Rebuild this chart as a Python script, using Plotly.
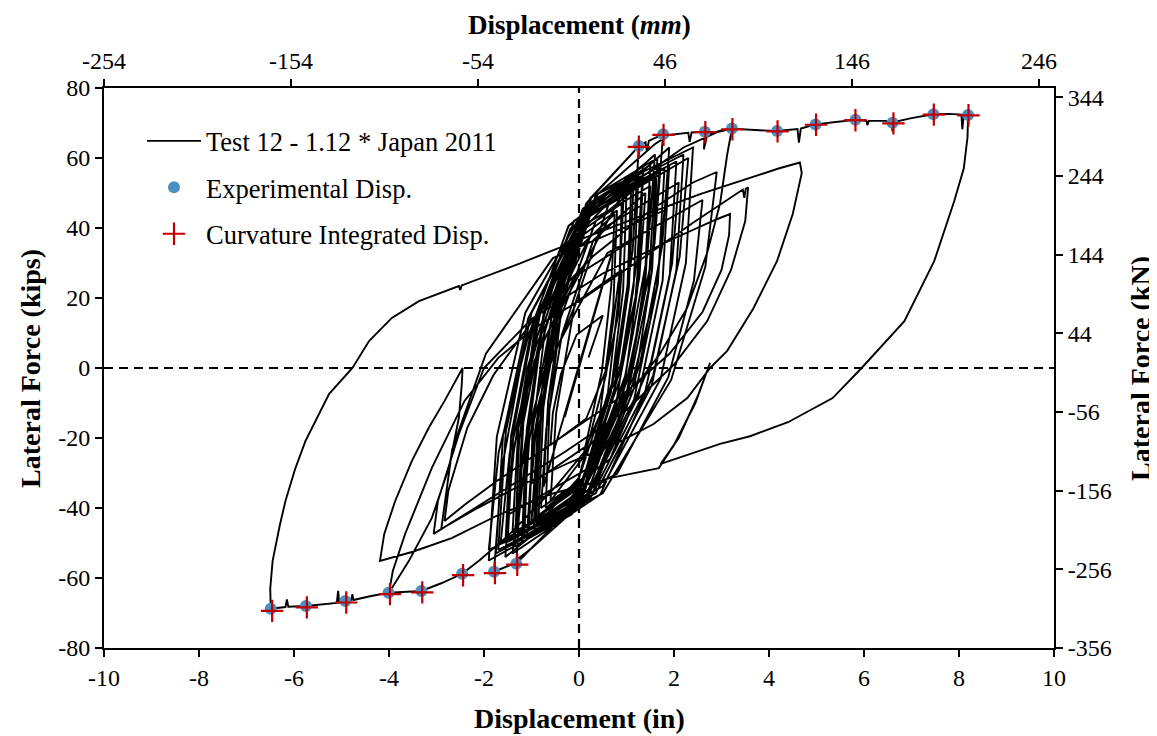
import plotly.graph_objects as go

# 位移 (in), 力 (kips) —— 滞回曲线各段
elastic_start = [(0, 0), (0.35, 17), (-0.3, -14), (0.55, 26), (-0.5, -23), (0.8, 38), (-0.75, -34)]

early_cycles = [
    (-0.65, -9.6), (-0.35, 19.6), (0.26, 48.8), (1.26, 63.4),
    (1.13, 33.6), (0.74, -2.2), (-0.03, -38.0), (-1.32, -55.9),
    (-1.21, -28.9), (-0.87, 3.4), (-0.18, 35.8), (0.95, 52),
    (0.86, 27.5), (0.57, -1.9), (0.0, -31.3), (-0.95, -46),
    (-0.84, -18.6), (-0.51, 14.2), (0.15, 47), (1.2, 62.5), (1.4, 64.5), (1.43, 61.8), (1.47, 64.9), (1.77, 66.8),
    (1.59, 35.6), (1.06, -2.0), (-0.01, -39.5), (-1.0, -51.5), (-1.45, -56.3), (-1.79, -58.2),
    (-1.63, -29.2), (-1.16, 5.7), (-0.22, 40.6), (1.35, 58),
    (1.23, 31.3), (0.86, -0.9), (0.13, -33.0), (-1.1, -49),
    (-0.97, -21.5), (-0.56, 11.5), (0.25, 44.5), (1.6, 61),
    (1.44, 32.3), (0.97, -2.3), (0.03, -36.8), (-1.55, -54),
    (-1.44, -29.5), (-1.09, -0.1), (-0.4, 29.3), (0.75, 44),
    (0.68, 23.5), (0.48, -1.1), (0.08, -25.7), (-0.6, -38),
    (-0.48, -12.8), (-0.1, 17.6), (0.65, 47.9), (1.9, 63),
    (1.75, 34.8), (1.28, 0.9), (0.35, -33.1), (-1.2, -50),
    (-1.05, -20.9), (-0.58, 14.1), (0.35, 49.1), (1.6, 64.0), (1.9, 66.6), (2.3, 67.2), (2.33, 64.6),
    (2.37, 67.3), (2.65, 67.5), (2.63, 62.5), (2.7, 66.8), (3.0, 67.9), (3.22, 68.4),
]

first_negative_push = [
    (3.12, 61), (2.97, 47), (2.7, 33), (2.27, 17), (1.7, 4), (0.6, -16), (-0.5, -34), (-1.5, -48),
    (-2.1, -55), (-2.46, -58.8), (-2.9, -61.5), (-3.32, -63.7), (-3.7, -64.0), (-4.0, -64.2),
]

mid_loops = [
    (-3.92, -58), (-3.66, -47.4), (-3.1, -28.6), (-2.41, -9.4), (-1.7, 2.9), (-0.94, 11.4), (0.1, 20),
    (1.3, 31), (2.4, 41.5), (3.1, 48), (3.45, 51), (3.48, 48.6), (3.51, 51.2), (3.56, 51.6),
    (3.5, 42), (3.2, 28), (2.7, 13.4), (2.0, 1), (1.0, -12), (-0.3, -24), (-1.6, -35), (-2.5, -42.5), (-3.06, -47.4),
    (-2.97, -38), (-2.53, -18.9), (-2.0, 0), (-1.0, 14), (0.5, 27), (2.0, 37), (2.9, 42.5), (3.18, 44),
    (3.16, 38), (3.0, 28), (2.6, 16), (1.9, 4), (0.8, -9), (-0.5, -21), (-1.7, -32), (-2.4, -39), (-2.83, -43.7),
    (-2.75, -35), (-2.35, -17), (-1.8, -2), (-0.9, 15), (0.3, 32), (1.5, 45), (2.4, 53), (2.9, 56),
]

late_cycles = [
    (2.66, 29), (1.94, -3.4), (0.5, -35.8), (-1.9, -52),
    (-1.69, -24), (-1.06, 9.6), (0.2, 43.2), (2.3, 60),
    (2.12, 31.8), (1.56, -2.2), (0.45, -36.1), (-1.4, -53),
    (-1.2, -27.8), (-0.6, 2.6), (0.6, 32.9), (2.6, 48),
    (2.42, 25), (1.88, -2.6), (0.8, -30.2), (-1.0, -44),
    (-0.87, -18.8), (-0.46, 11.6), (0.35, 41.9), (1.7, 57),
    (1.53, 30.3), (1.03, -1.9), (0.03, -34.0), (-1.65, -50),
    (-1.46, -24.3), (-0.9, 6.7), (0.23, 37.6), (2.1, 53),
    (1.96, 29.8), (1.52, 1.9), (0.65, -26.1), (-0.8, -40),
    (-0.69, -17.5), (-0.36, 9.5), (0.3, 36.5), (1.4, 50),
    (1.27, 25.8), (0.86, -3.4), (0.05, -32.5), (-1.3, -47),
]

dense_core = [
    (-1.2, -17.3), (-0.87, 14.4), (-0.1, 42.1), (1.1, 52),
    (1.02, 23.2), (0.74, -7.5), (0.1, -34.4), (-0.9, -44),
    (-0.8, -13.4), (-0.47, 19.2), (0.3, 47.8), (1.5, 58),
    (1.39, 26.2), (1.02, -7.7), (0.18, -37.4), (-1.15, -48),
    (-1.07, -19.5), (-0.78, 10.9), (-0.13, 37.5), (0.9, 47),
    (0.84, 20.9), (0.61, -6.9), (0.1, -31.3), (-0.7, -40),
    (-0.62, -11.5), (-0.35, 18.9), (0.28, 45.5), (1.25, 55),
    (1.15, 23.2), (0.78, -10.7), (-0.05, -40.4), (-1.35, -51),
    (-1.26, -20.7), (-0.93, 11.6), (-0.18, 39.9), (1.0, 50),
    (0.93, 22.4), (0.67, -7), (0.08, -32.8), (-0.85, -42),
    (-0.75, -11.4), (-0.4, 21.2), (0.4, 49.8), (1.65, 60),
    (1.54, 28.2), (1.16, -5.7), (0.3, -35.4), (-1.05, -46),
    (-0.98, -18.7), (-0.72, 10.4), (-0.13, 35.9), (0.8, 45),
    (0.72, 16.8), (0.44, -13.3), (-0.2, -39.6), (-1.2, -49),
    (-1.1, -17.5), (-0.74, 16.1), (0.08, 45.5), (1.35, 56),
    (1.26, 25.7), (0.94, -6.6), (0.2, -34.9), (-0.95, -45),
    (-0.87, -15.6), (-0.57, 15.8), (0.1, 43.2), (1.15, 53),
    (1.05, 23), (0.71, -9), (-0.08, -37), (-1.3, -47),
]

wide_core = [
    (-1.17, -15.5), (-0.72, 16), (0.3, 45.4), (1.9, 58),
    (1.76, 25), (1.25, -8), (0.1, -38.8), (-1.7, -52),
    (-1.54, -18.1), (-1.0, 15.8), (0.25, 47.4), (2.2, 61),
    (2.05, 28), (1.53, -5), (0.35, -35.8), (-1.5, -49),
    (-1.38, -17.8), (-0.94, 13.4), (0.05, 42.5), (1.6, 55),
    (1.46, 22), (0.97, -11), (-0.15, -41.8), (-1.9, -55),
    (-1.73, -19.6), (-1.13, 15.8), (0.25, 48.8), (2.4, 63),
    (2.25, 30), (1.72, -3), (0.5, -33.8), (-1.4, -47),
    (-1.27, -15.8), (-0.82, 15.4), (0.2, 44.5), (1.8, 57),
    (1.66, 24), (1.16, -9), (0.03, -39.8), (-1.75, -53),
    (-1.6, -19.4), (-1.07, 14.2), (0.15, 45.6), (2.05, 59),
    (1.91, 26.3), (1.4, -6.4), (0.25, -36.9), (-1.55, -50),
    (-1.43, -19.4), (-1.0, 11.2), (-0.03, 39.8), (1.5, 52),
    (1.39, 22.3), (1.0, -7.4), (0.1, -35.1), (-1.3, -47),
]

envelope_push = [
    (-1.07, -18.2), (-0.4, 16.5), (0.96, 51.1), (2.2, 63), (2.9, 67.3), (3.22, 68.4), (3.7, 68.0),
    (4.17, 67.7), (4.6, 68.3), (4.63, 64.4), (4.67, 68.4), (4.98, 69.6), (5.4, 70.3), (5.82, 70.9),
    (6.05, 70.6), (6.07, 69.4), (6.1, 70.6), (6.45, 70.6), (6.58, 70.2), (6.6, 67.6), (6.63, 70.3),
    (7.0, 71.4), (7.46, 72.5), (7.8, 72.6), (8.05, 72.4), (8.07, 68.2), (8.1, 72.3), (8.19, 72.3),
]

big_unload = [
    (8.18, 66), (8.1, 57), (7.9, 47.7), (7.48, 30.6), (6.85, 13.4), (5.95, 0), (5.34, -8.6), (4.4, -15.5),
    (3.6, -19.5), (2.97, -21.7), (1.72, -27.4), (2.1, -20), (2.5, -8), (2.76, 1.5), (2.45, -10), (2.0, -22),
    (1.68, -28.6), (0.67, -31.4), (-0.59, -36), (-1.7, -42), (-2.68, -48.6), (-3.5, -52.5), (-4.19, -55.1),
]

cusp_loop = [
    (-4.1, -47.4), (-3.87, -38), (-3.52, -26.6), (-3.16, -17), (-2.83, -9.4), (-2.45, 0), (-2.47, -5),
    (-2.53, -14.3), (-2.74, -28.6), (-3.1, -42.9), (-3.58, -55.1), (-4.0, -64.2),
]

negative_envelope = [
    (-4.4, -65.2), (-4.75, -66.3), (-4.77, -64.6), (-4.8, -66.4), (-4.92, -66.6), (-5.05, -67.0),
    (-5.07, -63.7), (-5.1, -67.1), (-5.75, -68.0), (-6.12, -68.2), (-6.15, -66.1), (-6.18, -68.3), (-6.49, -68.8),
]

big_reload = [
    (-6.5, -63), (-6.45, -55.1), (-6.3, -45), (-6.18, -38), (-5.98, -29), (-5.76, -20.9), (-5.26, -7.4),
    (-4.77, 0), (-4.42, 7.7), (-3.94, 14.3), (-3.37, 19.1), (-2.53, 23.4), (-2.5, 22.3), (-2.47, 23.6),
    (-1.28, 29.7), (0.1, 37.1), (1.3, 43.4), (2.55, 49.7), (3.6, 54.3), (4.2, 57), (4.65, 58.7),
]

final_unload = [
    (4.69, 55.7), (4.5, 44), (4.17, 30.6), (3.67, 17), (3.12, 4.9), (2.76, 0), (2.28, -8.6), (1.57, -16),
    (0.88, -20.9), (-0.2, -27), (-1.3, -34), (-2.2, -40.5), (-2.9, -46),
]

decay_cycles = [
    (-2.67, -23.3), (-1.96, 4.1), (-0.55, 31.4), (1.8, 45),
    (1.64, 23.3), (1.14, -2.9), (0.15, -29), (-1.5, -42),
    (-1.36, -22), (-0.94, 2), (-0.1, 26), (1.3, 38),
    (1.19, 20.3), (0.84, -1.1), (0.15, -22.4), (-1.0, -33),
    (-0.91, -17.8), (-0.62, 0.6), (-0.05, 18.9), (0.9, 28),
    (0.83, 15.5), (0.6, 0.5), (0.15, -14.5), (-0.6, -22),
    (-0.55, -12.8), (-0.38, -1.7), (-0.05, 9.5), (0.5, 15), (0.2, 3),
]

# 峰值点
exp_disp_in = [1.26, 1.77, 2.65, 3.22, 4.17, 4.98, 5.82, 6.60, 7.46, 8.19,
               -1.32, -1.79, -2.46, -3.32, -4.01, -4.92, -5.75, -6.49]
exp_force_kips = [63.4, 66.8, 67.5, 68.4, 67.7, 69.6, 70.9, 70.1, 72.5, 72.3,
                  -55.9, -58.2, -58.8, -63.7, -64.2, -66.6, -68.0, -68.8]
curv_disp_in = [1.26, 1.78, 2.66, 3.23, 4.18, 4.99, 5.82, 6.62, 7.47, 8.2,
                -1.3, -1.77, -2.44, -3.3, -3.98, -4.9, -5.73, -6.46]
curv_force_kips = [63.2, 66.6, 67.4, 68.2, 67.6, 69.5, 70.8, 69.9, 72.4, 72.2,
                   -56.2, -58.6, -59.2, -64.1, -64.6, -67.0, -68.4, -69.4]

in_ticks = [-10, -8, -6, -4, -2, 0, 2, 4, 6, 8, 10]
kips_ticks = [-80, -60, -40, -20, 0, 20, 40, 60, 80]
mm_ticks = [-254, -154, -54, 46, 146, 246]
kn_ticks = [-356, -256, -156, -56, 44, 144, 244, 344]

path = (elastic_start + early_cycles + first_negative_push + mid_loops + late_cycles + dense_core + wide_core
        + envelope_push + big_unload + cusp_loop + negative_envelope + big_reload + final_unload + decay_cycles)
disp = [p[0] for p in path]
force = [p[1] for p in path]

FONT = "Liberation Serif"

fig = go.Figure()
fig.add_trace(go.Scatter(
    x=disp, y=force, mode="lines", name="Test 12 - 1.12 * Japan 2011",
    line=dict(color="black", width=1.9), legendgroup="a",
))
fig.add_trace(go.Scatter(
    x=exp_disp_in, y=exp_force_kips, mode="markers", name="Experimental Disp.",
    marker=dict(symbol="circle", size=12, color="#4d8fc0"), legendgroup="b",
))
fig.add_trace(go.Scatter(
    x=curv_disp_in, y=curv_force_kips, mode="markers", name="Curvature Integrated Disp.",
    marker=dict(symbol="cross-thin", size=16, line=dict(color="#c00000", width=2.2)), legendgroup="c",
))
# 辅助坐标轴 (mm, kN)
fig.add_trace(go.Scatter(x=[], y=[], xaxis="x2", yaxis="y2", showlegend=False, hoverinfo="skip"))

# 零线
fig.add_shape(type="line", x0=0, x1=0, y0=-80, y1=80, xref="x", yref="y",
              line=dict(color="black", width=2.2, dash="9px,6px"))
fig.add_shape(type="line", x0=-10, x1=10, y0=0, y1=0, xref="x", yref="y",
              line=dict(color="black", width=2.2, dash="9px,6px"))

axis_style = dict(
    showline=True, linecolor="black", linewidth=2, ticks="outside", ticklen=7, tickwidth=1.5,
    tickcolor="black", showgrid=False, zeroline=False, automargin=False,
    tickfont=dict(family=FONT, size=24, color="black"),
)


def labels(vals):
    return [str(v) for v in vals]


title_font = dict(size=28, family=FONT, color="black")

fig.update_layout(
    width=1149, height=728,
    margin=dict(l=96, r=103, t=80, b=88),
    paper_bgcolor="white", plot_bgcolor="white",
    font=dict(family=FONT, color="black"),
    xaxis=dict(range=[-10, 10], tickvals=in_ticks, ticktext=labels(in_ticks), **axis_style),
    yaxis=dict(range=[-80, 80], tickvals=kips_ticks, ticktext=labels(kips_ticks), **axis_style),
    xaxis2=dict(range=[-254, 254], tickvals=mm_ticks, ticktext=labels(mm_ticks),
                overlaying="x", side="top", anchor="y", **axis_style),
    yaxis2=dict(range=[-356, 356], tickvals=kn_ticks, ticktext=labels(kn_ticks),
                overlaying="y", side="right", anchor="x", **axis_style),
    legend=dict(
        x=0.04, y=0.948, xanchor="left", yanchor="top", bgcolor="rgba(0,0,0,0)",
        font=dict(family=FONT, size=26.5, color="black"), traceorder="grouped",
        tracegroupgap=9, itemwidth=54,
    ),
    annotations=[
        dict(text="<b>Displacement (in)</b>", xref="paper", yref="paper", x=0.5, y=-0.125,
             xanchor="center", yanchor="middle", showarrow=False, font=title_font),
        dict(text="<b>Displacement (<i>mm</i>)</b>", xref="paper", yref="paper", x=0.5, y=1.112,
             xanchor="center", yanchor="middle", showarrow=False, font=dict(size=27, family=FONT, color="black")),
        dict(text="<b>Lateral Force (kips)</b>", xref="paper", yref="paper", x=-0.078, y=0.5,
             xanchor="center", yanchor="middle", textangle=-90, showarrow=False, font=title_font),
        dict(text="<b>Lateral Force (kN)</b>", xref="paper", yref="paper", x=1.0905, y=0.5,
             xanchor="center", yanchor="middle", textangle=-90, showarrow=False, font=title_font),
    ],
)

fig.write_html("out.html")
